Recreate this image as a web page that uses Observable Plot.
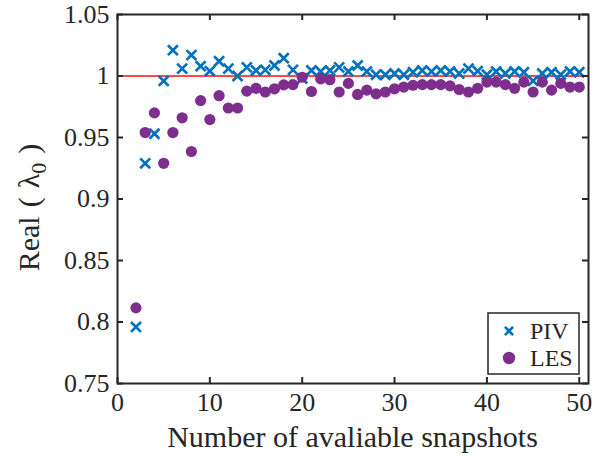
<!DOCTYPE html>
<html><head><meta charset="utf-8">
<script src="https://cdn.jsdelivr.net/npm/d3@7"></script>
<script src="https://cdn.jsdelivr.net/npm/@observablehq/plot@0.6"></script>
<style>body{margin:0;background:#fff}#chart{width:602px;height:459px}</style>
</head><body><div id="chart"></div>
<script>
const snapshots = [2,3,4,5,6,7,8,9,10,11,12,13,14,15,16,17,18,19,20,21,22,23,24,25,26,27,28,29,30,31,32,33,34,35,36,37,38,39,40,41,42,43,44,45,46,47,48,49,50];
const piv = [0.796,0.929,0.953,0.996,1.021,1.006,1.017,1.008,1.004,1.012,1.006,1.000,1.007,1.0045,1.005,1.0085,1.0145,1.005,0.998,1.0045,1.0037,1.0045,1.007,1.0037,1.0085,1.0037,1.001,1.001,1.002,1.001,1.003,1.0045,1.0037,1.0045,1.0037,1.002,1.006,1.004,1.001,1.0037,1.002,1.0037,1.003,0.996,1.002,1.003,1.001,1.0037,1.003];
const les = [0.8115,0.954,0.970,0.929,0.954,0.966,0.9386,0.980,0.9646,0.984,0.974,0.974,0.9877,0.990,0.987,0.9896,0.9928,0.993,0.999,0.9874,0.9977,0.997,0.987,0.994,0.985,0.9885,0.9855,0.987,0.9896,0.991,0.9925,0.993,0.993,0.993,0.992,0.989,0.987,0.990,0.995,0.995,0.993,0.990,0.995,0.987,0.995,0.9885,0.994,0.991,0.991];
const xTicks = [0,10,20,30,40,50];
const yTicks = [0.75,0.8,0.85,0.9,0.95,1,1.05];
const seriesNames = ["PIV","LES"];
const xLabel = "Number of avaliable snapshots";

const pivRows = snapshots.map((n,i)=>({n, v: piv[i]}));
const lesRows = snapshots.map((n,i)=>({n, v: les[i]}));

const W = 602, H = 459, mL = 117, mR = 14, mT = 14, mB = 76;
const pw = W - mL - mR, ph = H - mT - mB, tl = 6;
const axisColor = "#262626";
const fmt = d => String(+d.toFixed(2));
const font = "'Liberation Serif', 'Times New Roman', serif";

const plot = Plot.plot({
  width: W, height: H, marginLeft: mL, marginRight: mR, marginTop: mT, marginBottom: mB,
  x: {domain: [0, 51]},
  y: {domain: [0.75, 1.05]},
  style: {fontFamily: font, fontSize: "26px", color: axisColor, background: "white", overflow: "visible"},
  marks: [
    Plot.ruleY([1], {stroke: "#ff4a4a", strokeWidth: 2.2}),
    Plot.dot(pivRows, {x: "n", y: "v", symbol: "times", r: 4.6, stroke: "#0072BD", strokeWidth: 2.7}),
    Plot.dot(lesRows, {x: "n", y: "v", symbol: "circle", r: 5.6, fill: "#7E2F8E", stroke: "none"}),
    Plot.frame({stroke: axisColor, strokeWidth: 2}),
    Plot.tickX(xTicks, {x: d => d, stroke: axisColor, strokeWidth: 2, insetTop: ph - tl}),
    Plot.tickX(xTicks, {x: d => d, stroke: axisColor, strokeWidth: 2, insetBottom: ph - tl}),
    Plot.tickY(yTicks, {y: d => d, stroke: axisColor, strokeWidth: 2, insetRight: pw - tl}),
    Plot.tickY(yTicks, {y: d => d, stroke: axisColor, strokeWidth: 2, insetLeft: pw - tl}),
    Plot.axisX(xTicks, {tickSize: 0, tickPadding: 9, label: null, tickFormat: fmt, fill: axisColor}),
    Plot.axisY(yTicks, {tickSize: 0, tickPadding: 8, label: null, tickFormat: fmt, fill: axisColor})
  ]
});

const svg = d3.select(plot);
// x label
svg.append("text")
  .attr("x", mL + pw / 2).attr("y", 447)
  .attr("text-anchor", "middle").attr("font-family", font).attr("font-size", 30)
  .attr("fill", axisColor).text(xLabel);
// y label with subscript
const yl = svg.append("text")
  .attr("transform", `translate(39,${mT + ph / 2 + 9}) rotate(-90)`)
  .attr("text-anchor", "middle").attr("font-family", font).attr("font-size", 30)
  .attr("fill", axisColor);
yl.append("tspan").text("Real");
yl.append("tspan").attr("dx", 9).text("(");
yl.append("tspan").attr("dx", 9).text("λ");
yl.append("tspan").attr("font-size", 22).attr("dy", 7).text("0");
yl.append("tspan").attr("dy", -7).attr("dx", 9).text(")");

// legend
const lg = svg.append("g");
lg.append("rect").attr("x", 488).attr("y", 313).attr("width", 91).attr("height", 61)
  .attr("fill", "white").attr("stroke", axisColor).attr("stroke-width", 1.5);
lg.append("path").attr("transform", "translate(509,331)")
  .attr("d", d3.symbol(d3.symbolTimes, Math.PI * 3.8 * 3.8)())
  .attr("fill", "none").attr("stroke", "#0072BD").attr("stroke-width", 2.7);
lg.append("circle").attr("cx", 509).attr("cy", 358).attr("r", 6.2).attr("fill", "#7E2F8E");
lg.append("text").attr("x", 530).attr("y", 339).attr("text-anchor", "start").attr("font-family", font).attr("font-size", 24).attr("fill", axisColor).text(seriesNames[0]);
lg.append("text").attr("x", 530).attr("y", 366).attr("text-anchor", "start").attr("font-family", font).attr("font-size", 24).attr("fill", axisColor).text(seriesNames[1]);

document.getElementById("chart").appendChild(plot);
</script></body></html>
